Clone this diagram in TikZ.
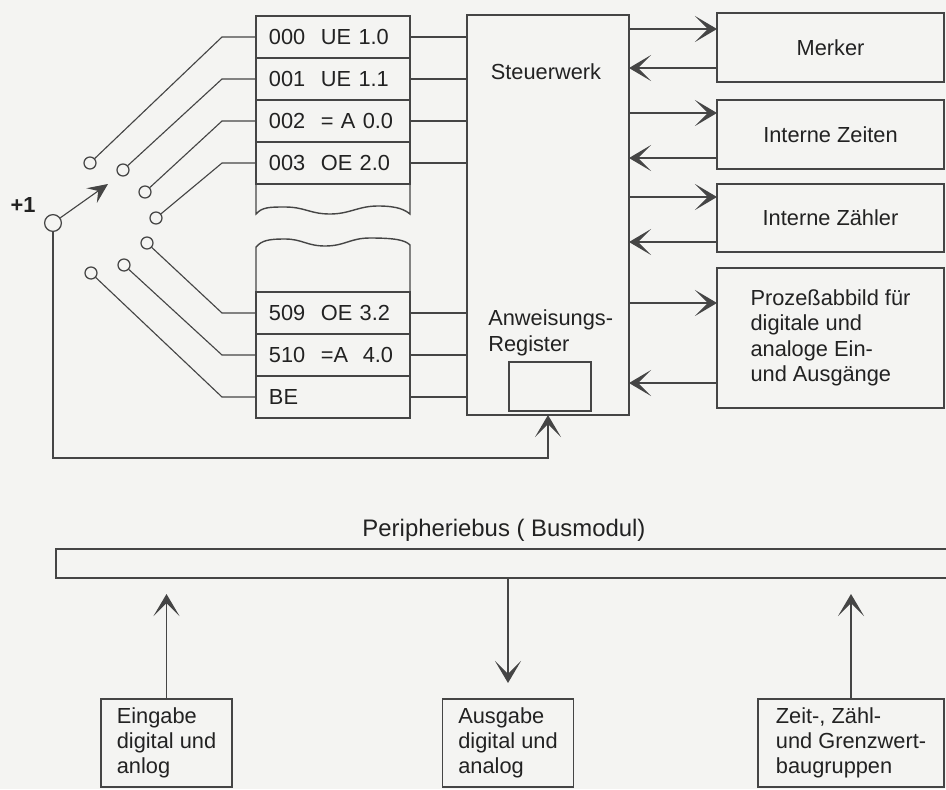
\documentclass[tikz,border=0pt]{standalone}
\usepackage{fontspec}
\setmainfont{Liberation Sans}
\usetikzlibrary{positioning,arrows.meta,calc}
\definecolor{ink}{HTML}{222222}
\definecolor{pencil}{HTML}{454545}
\definecolor{paper}{HTML}{F4F4F2}
\newcommand{\memrow}[2]{\makebox[1.3cm][l]{#1}#2}

\begin{document}
\begin{tikzpicture}[x=0.025cm,y=-0.025cm,
   font=\fontsize{15.5}{18}\selectfont,text=ink,
   outline/.style={draw=pencil,line width=1pt},
   box/.style={outline,inner sep=0pt,outer sep=0pt,align=center},
   cell/.style={box,minimum width=3.85cm,minimum height=1.05cm,text width=3.2cm,align=left},
   unit/.style={box,minimum width=5.675cm,minimum height=1.725cm},
   port/.style={box,minimum width=3.275cm,minimum height=2.2cm,align=left},
   contact/.style={circle,draw=pencil,line width=0.9pt,minimum size=0.3cm,inner sep=0pt},
   wire/.style={draw=pencil,line width=0.8pt},
   flow/.style={wire,-{Stealth[length=5.5mm,width=6.5mm,inset=3.2mm]}},
   lbl/.style={inner sep=0pt}]
 \useasboundingbox (0,0) rectangle (946,789);
 \clip (0,0) rectangle (946,789);
 \fill[paper] (0,0) rectangle (946,789);
 \node[cell] (r0) at (333,37) {\memrow{000}{UE 1.0}};
 \node[cell,below=0pt of r0] (r1) {\memrow{001}{UE 1.1}};
 \node[cell,below=0pt of r1] (r2) {\memrow{002}{= A 0.0}};
 \node[cell,below=0pt of r2] (r3) {\memrow{003}{OE 2.0}};
 \node[cell] (r4) at (333,313) {\memrow{509}{OE 3.2}};
 \node[cell,below=0pt of r4] (r5) {\memrow{510}{=A~~4.0}};
 \node[cell,below=0pt of r5] (r6) {BE};
 \draw[outline] (r3.south west) -- (256,214) .. controls (262,207) and (270,207) .. (285,207)
   .. controls (305,207) and (310,214) .. (330,214) .. controls (350,214) and (358,206) .. (378,206)
   .. controls (398,206) and (405,210) .. (410,214) -- (r3.south east);
 \draw[outline] (r4.north west) -- (256,247) .. controls (262,240) and (270,239) .. (285,239)
   .. controls (302,239) and (307,246) .. (325,246) .. controls (345,246) and (350,238) .. (370,238)
   .. controls (395,238) and (405,240) .. (410,245) -- (r4.north east);
 \node[box,minimum width=4.05cm,minimum height=10cm] (sw) at (548,215) {};
 \node[lbl] (st) at (546,72) {Steuerwerk};
 \node[lbl,anchor=west,align=left] (ar) at (488,333) {Anweisungs-\\Register};
 \node[box,minimum width=2.05cm,minimum height=1.225cm] (reg) at (550,386.5) {};
 \node[unit] (mk) at (830.5,47.5) {Merker};
 \node[unit] (iz) at (830.5,134.5) {Interne Zeiten};
 \node[unit,minimum height=1.7cm] (ic) at (830.5,218) {Interne Zähler};
 \node[unit,minimum height=3.5cm,align=left] (pa) at (830.5,338) {Prozeßabbild für\\digitale und\\analoge Ein-\\und Ausgänge};
 \node[contact,minimum size=0.42cm] (k) at (53,223) {};
 \node[contact] (c0) at (90,163) {};
 \node[contact] (c1) at (123,170) {};
 \node[contact] (c2) at (145,192) {};
 \node[contact] (c3) at (156,218) {};
 \node[contact] (c4) at (147,243) {};
 \node[contact] (c5) at (124,265) {};
 \node[contact] (c6) at (91,273) {};
 \node[lbl,font=\fontsize{15.5}{18}\selectfont\bfseries] (one) at (23,205) {+1};
 \coordinate (arm) at (108,184);
 \draw[wire,-{Stealth[length=5mm,width=4.5mm,inset=2mm]}] (k) -- (arm);
 \coordinate (bend) at (222,0);
 \foreach \i in {0,...,6}{
   \draw[wire] (r\i.west) -- (r\i.west -| bend) -- (c\i);
   \draw[wire] (r\i.east) -- (r\i.east -| sw.west);
 }
 \foreach \b/\o/\n in {mk/16/14,iz/13/11,ic/13/10,pa/35/25}{
   \coordinate (\b-o) at ([yshift=-\o*0.25mm]\b.north west);
   \coordinate (\b-i) at ([yshift=\n*0.25mm]\b.south west);
   \draw[flow] (sw.east |- \b-o) -- (\b-o);
   \draw[flow] (\b-i) -- (sw.east |- \b-i);
 }
 \draw[flow] (k) |- (sw.south |- 0,458) -- (sw.south);
 \node[box,minimum width=22.5cm,minimum height=0.725cm,anchor=west] (bus) at (56,563.5) {};
 \node[lbl,font=\fontsize{17}{20}\selectfont] (pb) at (504,530) {Peripheriebus ( Busmodul)};
 \node[port] (ein) at (166.5,743) {Eingabe\\digital und\\anlog};
 \node[port] (aus) at (508,743) {Ausgabe\\digital und\\analog};
 \node[port,minimum width=4.65cm] (zg) at (851,743) {Zeit-, Zähl-\\und Grenzwert-\\baugruppen};
 \draw[flow,shorten >=4mm] (ein) -- (ein |- bus.south);
 \draw[flow,shorten >=4mm] (aus |- bus.south) -- (aus);
 \draw[flow,shorten >=4mm] (zg) -- (zg |- bus.south);
\end{tikzpicture}
\end{document}
